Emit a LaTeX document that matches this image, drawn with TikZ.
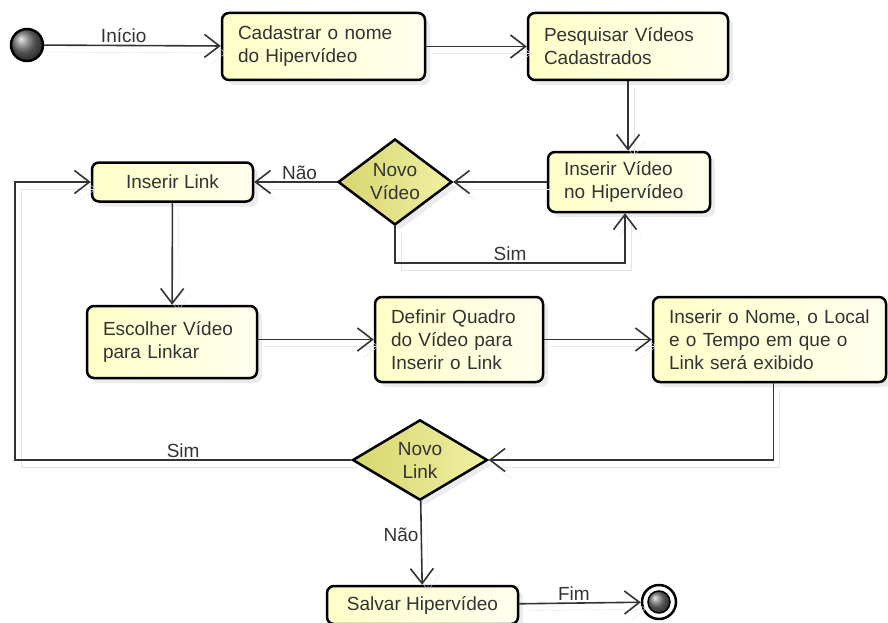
\documentclass[tikz,border=0pt]{standalone}
\usepackage{fontspec}
\setmainfont{Liberation Sans}
\usepackage{tikz}
\usetikzlibrary{shapes.geometric,arrows.meta,shadows,positioning}
\definecolor{actleft}{RGB}{255,255,200}
\definecolor{actright}{RGB}{255,255,238}
\definecolor{decleft}{RGB}{214,214,110}
\definecolor{decright}{RGB}{240,240,165}

\begin{document}
\begin{tikzpicture}
     [ x=1pt, y=-1pt,
       font=\fontsize{19}{23}\selectfont, text=black!80,
       act/.style={draw, rounded corners=7pt, line width=2.5pt, inner xsep=16pt, inner ysep=0pt,
         align=left, left color=actleft, right color=actright,
         drop shadow={shadow xshift=5pt, shadow yshift=-5pt, fill=black!15}},
       dec/.style={diamond, draw, line width=2.5pt, inner sep=0pt, align=center,
         left color=decleft, right color=decright,
         drop shadow={shadow xshift=5pt, shadow yshift=-5pt, fill=black!15}},
       flow/.style={draw=black!80, line width=1.6pt, -{Straight Barb[length=15pt,width=23pt]},
         preaction={draw=black!10, transform canvas={shift={(6pt,-7pt)}}}},
       lbl/.style={inner sep=2pt}]
     %[semithick, >=latex, rounded corners]
   \useasboundingbox (0,0) rectangle (888,623);
   \node (INI) [circle, draw, line width=2.5pt, minimum size=32pt, shading=ball, ball color=black!55] at (27,45) {};
   \node (CAD) [act, text width=171pt, minimum height=67pt] at (323.5,46.5) {Cadastrar o nome\\do Hipervídeo};
   \node (PESQ) [act, text width=168pt, minimum height=67pt] at (628,46.5) {Pesquisar Vídeos\\Cadastrados};
   \node (INSV) [act, text width=130pt, minimum height=60pt] at (629,182) {Inserir Vídeo\\no Hipervídeo};
   \node (NV) [dec, minimum width=114pt, minimum height=86pt] at (395,182) {Novo\\Vídeo};
   \node (INSL) [act, align=center, inner xsep=0pt, minimum width=161pt, minimum height=39pt] at (172.5,182) {Inserir Link};
   \node (ESC) [act, text width=138pt, minimum height=72pt] at (172,342) {Escolher Vídeo\\para Linkar};
   \node (DEF) [act, text width=136pt, minimum height=85pt] at (459,339.5) {Definir Quadro\\do Vídeo para\\Inserir o Link};
   \node (NOME) [act, text width=201pt, minimum height=85pt] at (769.5,339.5) {Inserir o Nome, o Local\\e o Tempo em que o\\Link será exibido};
   \node (NL) [dec, minimum width=135pt, minimum height=76pt] at (420,460) {Novo\\Link};
   \node (SALV) [act, align=center, inner xsep=0pt, minimum width=191pt, minimum height=38pt] at (422.5,605) {Salvar Hipervídeo};
   \node (FIM) [circle, draw, line width=2.5pt, fill=white, minimum size=34pt] at (659,602) {};
   \node (FIMi) [circle, draw, line width=1.5pt, minimum size=22pt, shading=ball, ball color=black!55] at (FIM) {};
   \coordinate (VOLTA) at (15,460);

   \draw[flow] (INI) -- node[lbl, above, pos=0.45] {Início} (CAD);
   \draw[flow] (CAD) -- (PESQ);
   \draw[flow] (PESQ.south) -- (PESQ.south |- INSV.north);
   \draw[flow] (INSV) -- (NV);
   \draw[flow] (NV) -- node[lbl, above, pos=0.45] {Não} (INSL);
   \draw[flow] (NV.south) -- ++(0,37) -| node[lbl, above, pos=0.25] {Sim} ([xshift=-4pt]INSV.south);
   \draw[flow] (INSL) -- (ESC);
   \draw[flow] (ESC.east |- DEF.west) -- (DEF.west);
   \draw[flow] (DEF) -- (NOME);
   \draw[flow] ([xshift=4pt]NOME.south) |- (NL.east);
   \draw[flow] (NL.west) -- node[lbl, above] {Sim} (VOLTA) |- (INSL.west);
   \draw[flow] (NL) -- node[lbl, left, pos=0.4] {Não} (SALV);
   \draw[flow] (SALV) -- node[lbl, above, pos=0.45] {Fim} (FIM);
   \end{tikzpicture}
\end{document}
